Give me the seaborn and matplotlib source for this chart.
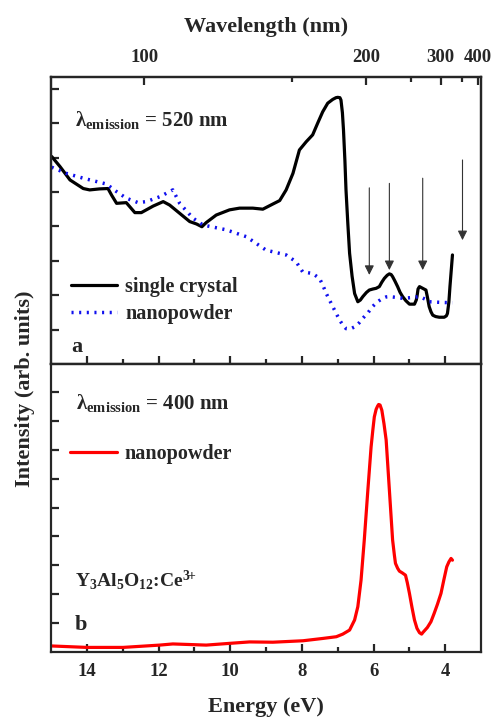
import numpy as np
import pandas as pd
import matplotlib
matplotlib.use("Agg")
import matplotlib.pyplot as plt
import seaborn as sns

# ---------------- data ----------------
crystal_E = [14.98, 14.75, 14.47, 14.1, 13.92, 13.64, 13.41, 13.31, 13.17, 12.9, 12.66, 12.48,
             12.15, 11.87, 11.69, 11.41, 11.13, 10.94, 10.79, 10.67, 10.39, 10.02, 9.74, 9.37,
             9.09, 8.81, 8.62, 8.44, 8.25, 8.07, 7.88, 7.70, 7.56, 7.42, 7.28, 7.14, 7.05, 7.0,
             6.94, 6.91, 6.87, 6.84, 6.80, 6.77, 6.72, 6.67, 6.60, 6.53, 6.44, 6.37, 6.30, 6.20,
             6.12, 6.02, 5.93, 5.84, 5.77, 5.70, 5.62, 5.56, 5.51, 5.47, 5.40, 5.33, 5.26, 5.19,
             5.10, 5.0, 4.86, 4.81, 4.79, 4.76, 4.72, 4.63, 4.54, 4.50, 4.45, 4.40, 4.35, 4.27,
             4.17, 4.03, 3.97, 3.94, 3.90, 3.87, 3.80]
crystal_I = [6.03, 5.74, 5.35, 5.10, 5.06, 5.09, 5.10, 4.91, 4.67, 4.69, 4.40, 4.40,
             4.59, 4.72, 4.62, 4.38, 4.14, 4.07, 3.99, 4.11, 4.33, 4.48, 4.53, 4.53,
             4.50, 4.65, 4.75, 5.06, 5.54, 6.22, 6.46, 6.66, 7.00, 7.33, 7.58, 7.69, 7.74, 7.75,
             7.74, 7.67, 7.30, 6.80, 5.90, 5.06, 4.10, 3.22, 2.55, 2.05, 1.81, 1.86, 1.96, 2.08,
             2.15, 2.18, 2.20, 2.25, 2.38, 2.49, 2.58, 2.62, 2.60, 2.54, 2.40, 2.25, 2.08, 1.96,
             1.84, 1.74, 1.74, 1.86, 1.96, 2.18, 2.25, 2.20, 2.15, 1.95, 1.67, 1.52, 1.42, 1.38,
             1.36, 1.36, 1.40, 1.47, 1.80, 2.25, 3.17]

nano_a_E = [14.98, 14.57, 14.1, 13.45, 13.17, 12.9, 12.57, 12.34, 11.97, 11.6, 11.41, 11.04,
            10.76, 10.11, 9.55, 9.0, 8.44, 8.16, 7.98, 7.70, 7.51, 7.42, 7.32, 7.14, 6.95,
            6.85, 6.77, 6.65, 6.53, 6.40, 6.30, 6.15, 6.03, 5.90, 5.75, 5.65, 5.56, 5.40,
            5.19, 4.95, 4.72, 4.55, 4.45, 4.10, 3.80]
nano_a_I = [5.72, 5.54, 5.40, 5.23, 5.01, 4.82, 4.69, 4.72, 4.86, 5.06, 4.67, 4.24,
            4.04, 3.90, 3.70, 3.31, 3.17, 2.97, 2.68, 2.63, 2.49, 2.30, 2.05, 1.67, 1.28,
            1.12, 1.03, 1.02, 1.08, 1.20, 1.33, 1.50, 1.67, 1.80, 1.91, 1.95, 1.96, 1.94,
            1.91, 1.93, 1.96, 1.88, 1.81, 1.79, 1.78]

nano_b_E = [14.98, 14.0, 12.99, 11.97, 11.6, 10.67, 10.02, 9.46, 8.81, 7.97, 7.42, 7.04,
            6.86, 6.67, 6.53, 6.44, 6.35, 6.26, 6.16, 6.07, 6.02, 5.98, 5.93, 5.89, 5.86,
            5.82, 5.77, 5.71, 5.65, 5.56, 5.47, 5.42, 5.39, 5.33, 5.28, 5.20, 5.11, 5.06,
            5.0, 4.93, 4.86, 4.79, 4.72, 4.66, 4.63, 4.5, 4.40, 4.31, 4.22, 4.12, 4.04,
            3.96, 3.90, 3.84, 3.80]
nano_b_I = [0.21, 0.16, 0.16, 0.24, 0.28, 0.24, 0.30, 0.35, 0.34, 0.39, 0.47, 0.53,
            0.62, 0.76, 1.11, 1.57, 2.49, 3.88, 5.61, 7.10, 7.70, 8.14, 8.40, 8.51, 8.57,
            8.55, 8.37, 7.90, 7.34, 5.61, 3.88, 3.35, 3.07, 2.90, 2.80, 2.74, 2.66, 2.40,
            2.03, 1.55, 1.11, 0.82, 0.67, 0.62, 0.67, 0.85, 1.05, 1.34, 1.65, 2.03, 2.50,
            2.95, 3.12, 3.24, 3.18]

arrow_E = [6.12, 5.56, 4.63, 3.52]
arrow_top = [5.12, 5.25, 5.40, 5.93]
arrow_bottom = [2.59, 2.73, 2.73, 3.60]

energy_ticks = [14, 12, 10, 8, 6, 4]
wavelength_ticks = [100, 200, 300, 400]
wavelength_minor = [150, 250, 350]

# ---------------- style ----------------
sns.set_style("ticks")
plt.rcParams["font.family"] = ["Liberation Serif", "DejaVu Serif"]
plt.rcParams["font.weight"] = "bold"
plt.rcParams["mathtext.fontset"] = "custom"
plt.rcParams["mathtext.rm"] = "Liberation Serif:bold"
plt.rcParams["mathtext.bf"] = "Liberation Serif:bold"
plt.rcParams["mathtext.it"] = "Liberation Serif:bold"

fig = plt.figure(figsize=(4.95, 7.2), dpi=100)
ax_a = fig.add_axes([0.103, 0.4944, 0.869, 0.3986])
ax_b = fig.add_axes([0.103, 0.0944, 0.869, 0.4000])

df_c = pd.DataFrame({"E": crystal_E, "I": crystal_I})
df_na = pd.DataFrame({"E": nano_a_E, "I": nano_a_I})
df_nb = pd.DataFrame({"E": nano_b_E, "I": nano_b_I})

sns.lineplot(data=df_c, x="E", y="I", ax=ax_a, color="black", lw=2.3,
             sort=False, label="single crystal")
sns.lineplot(data=df_na, x="E", y="I", ax=ax_a, color="#1010ee", lw=2.5,
             linestyle=(0, (0.6, 1.6)), sort=False, label="nanopowder")
sns.lineplot(data=df_nb, x="E", y="I", ax=ax_b, color="#ff0000", lw=2.3,
             sort=False, label="nanopowder")

for e, t, b in zip(arrow_E, arrow_top, arrow_bottom):
    ax_a.annotate("", xy=(e, b), xytext=(e, t),
                  arrowprops=dict(arrowstyle="-|>", color="#333333", lw=0.8,
                                  mutation_scale=14, shrinkA=0, shrinkB=0))

for ax in (ax_a, ax_b):
    ax.set_xlim(15.0, 3.0)
    for s in ax.spines.values():
        s.set_linewidth(1.6)
        s.set_visible(True)
    ax.set_ylabel("")
    ax.set_yticklabels([])
    ax.set_xticks(energy_ticks)
    ax.set_xticks([13, 11, 9, 7, 5], minor=True)
    ax.tick_params(axis="both", which="major", direction="in", length=6, width=1.6)
    ax.tick_params(axis="both", which="minor", direction="in", length=3.5, width=1.6)
    ax.tick_params(right=False, top=False)

ax_a.set_ylim(0, 8.34)
ax_a.set_yticks(range(1, 9))
ax_b.set_ylim(0, 9.97)
ax_b.set_yticks(range(1, 10))

ax_a.set_xlabel("")
ax_a.tick_params(axis="x", labelbottom=False)
ax_b.set_xticklabels([str(t) for t in energy_ticks], fontsize=13.5, fontweight="bold")
ax_b.tick_params(axis="x", pad=8)
ax_b.set_xlabel("Energy (eV)", fontsize=16, fontweight="bold", labelpad=12)

# top wavelength axis
ax_top = ax_a.twiny()
ax_top.set_xlim(ax_a.get_xlim())
ax_top.set_xticks([1239.84 / w for w in wavelength_ticks])
ax_top.set_xticks([1239.84 / w for w in wavelength_minor], minor=True)
ax_top.set_xticklabels([str(w) for w in wavelength_ticks], fontsize=13.5, fontweight="bold")
ax_top.tick_params(axis="x", which="major", direction="in", length=6, width=1.6, pad=8)
ax_top.tick_params(axis="x", which="minor", direction="in", length=3.5, width=1.6)
ax_top.set_xlabel("Wavelength (nm)", fontsize=16, fontweight="bold", labelpad=12)
for s in ax_top.spines.values():
    s.set_linewidth(1.6)

# legends
leg_a = ax_a.legend(loc="lower left", bbox_to_anchor=(0.0, 0.07), frameon=False,
                    prop={"family": "Liberation Serif", "weight": "bold", "size": 14.5},
                    handlelength=2.3, handletextpad=0.4, labelspacing=0.35, borderaxespad=0.6)
leg_b = ax_b.legend(loc="upper left", bbox_to_anchor=(0.012, 0.77), frameon=False,
                    prop={"family": "Liberation Serif", "weight": "bold", "size": 14.5},
                    handlelength=2.3, handletextpad=0.4, borderaxespad=0.3)

# annotations
ax_a.text(0.056, 0.85, r"λ$_{\mathbf{emission}}$ = 520 nm", transform=ax_a.transAxes,
          fontsize=15, fontweight="bold", va="center", ha="left")
ax_a.text(0.048, 0.06, "a", transform=ax_a.transAxes, fontsize=16, fontweight="bold",
          va="center", ha="left")
ax_b.text(0.058, 0.865, r"λ$_{\mathbf{emission}}$ = 400 nm", transform=ax_b.transAxes,
          fontsize=15, fontweight="bold", va="center", ha="left")
ax_b.text(0.056, 0.25, r"Y$_\mathbf{3}$Al$_\mathbf{5}$O$_\mathbf{12}$:Ce$^{\mathbf{3}\!\!+}$",
          transform=ax_b.transAxes, fontsize=14, fontweight="bold", va="center", ha="left")
ax_b.text(0.055, 0.095, "b", transform=ax_b.transAxes, fontsize=16, fontweight="bold",
          va="center", ha="left")

fig.text(0.05, 0.46, "Intensity (arb. units)", rotation=90, fontsize=16,
         fontweight="bold", va="center", ha="center")

fig.savefig("out.png", dpi=100)
